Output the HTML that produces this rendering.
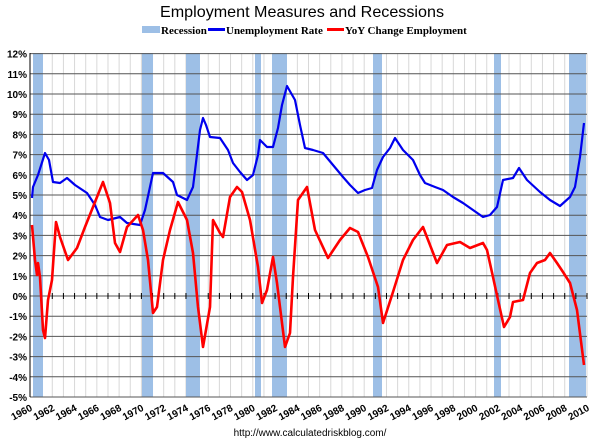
<!DOCTYPE html>
<html><head><meta charset="utf-8"><style>
html,body{margin:0;padding:0;background:#fff;}
svg{display:block;}
</style></head><body>
<svg width="600" height="443" viewBox="0 0 600 443" xmlns="http://www.w3.org/2000/svg">
<rect width="600" height="443" fill="#fff"/>
<text x="302" y="17" text-anchor="middle" font-family="Liberation Sans, sans-serif" font-size="16" fill="#000" textLength="284" lengthAdjust="spacingAndGlyphs">Employment Measures and Recessions</text>
<g font-family="Liberation Serif, serif" font-size="11" font-weight="bold" fill="#000">
<rect x="142" y="26" width="18" height="7" fill="#9dbfe6"/>
<text x="161" y="34">Recession</text>
<rect x="208" y="28" width="17" height="3" fill="#0000ee"/>
<text x="226" y="34">Unemployment Rate</text>
<rect x="327" y="28" width="17" height="3" fill="#ff0000"/>
<text x="345" y="34">YoY Change Employment</text>
</g>
<g id="vg" stroke="#d8d8d8" stroke-width="1">
</g>
<g fill="#9dbfe6">
<rect x="33" y="53" width="10" height="344"/>
<rect x="142" y="53" width="11" height="344"/>
<rect x="186" y="53" width="14" height="344"/>
<rect x="255" y="53" width="6" height="344"/>
<rect x="272" y="53" width="15" height="344"/>
<rect x="373" y="53" width="9" height="344"/>
<rect x="494" y="53" width="7" height="344"/>
<rect x="569" y="53" width="17" height="344"/>
</g>
<g id="hg" stroke="#555" stroke-width="1"></g>
<g id="ticks" stroke="#000" stroke-width="1"></g>
<g id="yl" font-family="Liberation Sans, sans-serif" font-size="10" font-weight="bold" text-anchor="end"></g>
<g id="xl" font-family="Liberation Sans, sans-serif" font-size="10" font-weight="bold" text-anchor="end"></g>
<polyline fill="none" stroke="#0000ee" stroke-width="2.2" stroke-linejoin="round" points="32,198 33,187 38,175 45,153 49,160 53,182 60,183 67,178 75,185 87,193 95,205 100,217 108,220 120,217 127,223 140,225 145,210 153,173 163,173 173,182 177,195 187,200 193,187 200,130 203,118 206,125 210,137 220,138 228,150 233,163 240,172 247,180 253,175 258,155 260,140 267,147 273,147 278,128 282,105 287,86 291,93 295,100 300,125 305,148 313,150 323,153 333,165 343,177 350,185 358,193 365,190 372,188 377,170 383,157 390,148 395,138 403,150 413,160 420,175 425,183 435,187 443,190 453,197 463,203 473,210 483,217 490,215 497,207 503,180 513,178 519,168 527,180 540,192 550,200 560,206 570,197 575,187 580,157 584,123"/>
<polyline fill="none" stroke="#ff0000" stroke-width="2.6" stroke-linejoin="round" points="32,225 35,260 37,275 38,263 40,277 43,330 45,338 48,300 52,280 56,222 60,237 68,260 77,248 85,227 93,207 103,182 110,203 115,243 120,252 127,227 138,215 143,230 148,260 153,313 157,307 163,260 170,230 178,202 187,220 193,253 198,307 203,347 210,307 213,220 220,233 223,237 230,197 237,187 242,192 250,220 258,267 262,303 267,290 273,257 277,283 285,347 290,333 293,277 298,200 307,187 315,230 328,258 340,240 350,228 358,232 368,257 378,287 383,323 393,292 403,260 413,240 423,227 437,263 447,245 460,242 470,248 483,243 487,250 493,277 498,300 504,327 510,317 513,302 523,300 530,273 537,263 545,260 550,253 557,263 563,272 570,283 577,310 584,365"/>
<text x="310" y="436" text-anchor="middle" font-family="Liberation Sans, sans-serif" font-size="10" fill="#000">http://www.calculatedriskblog.com/</text>
<script>
var ns="http://www.w3.org/2000/svg";
function el(p,t,a,txt){var e=document.createElementNS(ns,t);for(var k in a)e.setAttribute(k,a[k]);if(txt)e.textContent=txt;document.getElementById(p).appendChild(e);}
for(var i=1;i<=50;i++){var x=30+i*11.14;el("vg","line",{x1:x,y1:53,x2:x,y2:397});}
for(var v=12;v>=-5;v--){var y=296-v*20.2;el("hg","line",{x1:30,y1:y,x2:587,y2:y});el("yl","text",{x:27,y:y+4},v+"%");}
el("ticks","line",{x1:30,y1:53,x2:30,y2:397});
for(var i=0;i<=50;i++){var x=30+i*11.14;el("ticks","line",{x1:x,y1:293,x2:x,y2:299});}
for(var i=0;i<=50;i+=2){var x=30+i*11.14+3;el("xl","text",{x:x,y:410,transform:"rotate(-28 "+x+" 410)"},String(1960+i));}
</script>
</svg>
</body></html>
